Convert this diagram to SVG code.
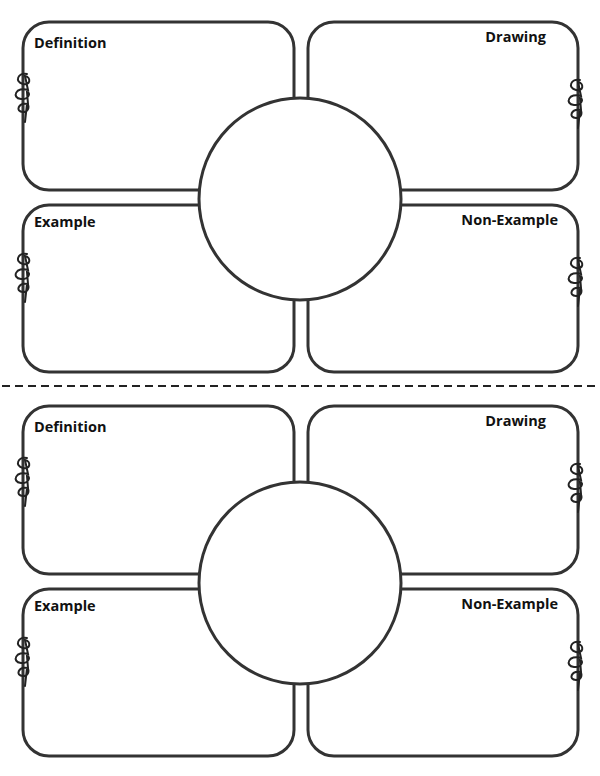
<svg xmlns="http://www.w3.org/2000/svg" xmlns:xlink="http://www.w3.org/1999/xlink" width="600" height="776" viewBox="0 0 600 776">
<style>
.b{fill:#fff;stroke:#333;stroke-width:3}
.s{fill:none;stroke:#222;stroke-width:2;stroke-linecap:round}
.t{font-family:"Open Sans","Liberation Sans",sans-serif;font-weight:bold;font-size:14.5px;fill:#111}
</style>
<defs>
<path id="sq" class="s" d="M27 74 C18 72,14 82,23 84 C31 86,31 77,25 76 L28 90 C16 86,11 98,21 99 C29 100,31 92,27 92 L28 104 C18 102,15 112,23 112 C30 112,29 104,27 104 L25 122"/>
<g id="half">
<rect class="b" x="23" y="22" width="271" height="168" rx="26"/>
<rect class="b" x="308" y="22" width="270" height="168" rx="26"/>
<rect class="b" x="23" y="205" width="271" height="167" rx="26"/>
<rect class="b" x="308" y="205" width="270" height="167" rx="26"/>
<circle class="b" cx="300" cy="199" r="101"/>
<use xlink:href="#sq"/>
<use xlink:href="#sq" transform="translate(0,180)"/>
<use xlink:href="#sq" transform="translate(553,6)"/>
<use xlink:href="#sq" transform="translate(553,184)"/>
<text class="t" x="34" y="48">Definition</text>
<text class="t" x="546" y="42" text-anchor="end">Drawing</text>
<text class="t" x="34" y="227">Example</text>
<text class="t" x="558" y="225" text-anchor="end">Non-Example</text>
</g>
</defs>
<g id="top"><use xlink:href="#half"/></g>
<g id="connectors"><line x1="2" y1="386" x2="598" y2="386" stroke="#222" stroke-width="2" stroke-dasharray="8,5"/></g>
<g id="bottom"><use xlink:href="#half" transform="translate(0,384)"/></g>
</svg>
